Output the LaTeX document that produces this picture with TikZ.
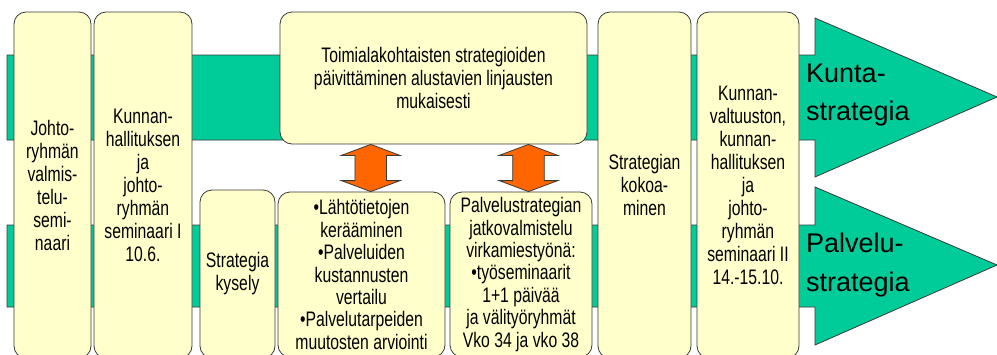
\documentclass[tikz,border=0pt]{standalone}
\usepackage{fontspec}
\usetikzlibrary{calc}
\setmainfont{Liberation Sans}
\newfontfamily\bodyfont{Liberation Sans}[FakeStretch=0.75]
\definecolor{bandgreen}{HTML}{00CC99}
\definecolor{paper}{HTML}{FFFFCC}
\definecolor{flame}{HTML}{FF6600}
\definecolor{edge}{HTML}{3A3A3A}

% two-way arrow between a box above and a box below, centred on a given x
\newcommand{\twowayarrow}[3]{%
  \draw[swap] (#2.south -| #1) -- ++(29.3,11) -- ++(-13.5,0)
    -- ($(#3.north -| #1)+(15.8,-11)$) -- ++(13.5,0) -- (#3.north -| #1)
    -- ++(-29.3,-11) -- ++(13.5,0) -- ($(#2.south -| #1)+(-15.8,11)$)
    -- ++(-13.5,0) -- cycle;}

\begin{document}
\begin{tikzpicture}[x=1pt,y=-1pt,
  band/.style={fill=bandgreen,draw=edge,line width=0.8pt},
  stage/.style={draw=edge,fill=paper,rounded corners=12pt,line width=0.8pt,
    align=center,inner sep=0pt,
    font=\bodyfont\fontsize{21}{23}\selectfont},
  tight/.style={font=\bodyfont\fontsize{21}{22.4}\selectfont},
  swap/.style={fill=flame,draw=edge,line width=0.8pt},
  outcome/.style={anchor=base west,inner sep=0pt,
    font=\fontsize{27}{38.5}\selectfont}]
\useasboundingbox (0,0) rectangle (997,354);
\clip (0,0) rectangle (997,354);

% the two strategy tracks
\draw[band] (7,55) -- (815,55) -- (815,18) -- (997,97) -- (815,177)
  -- (815,140) -- (7,140) -- cycle;
\draw[band] (7,225) -- (815,225) -- (815,187) -- (997,265) -- (815,345)
  -- (815,307) -- (7,307) -- cycle;

% stages
\node[stage,minimum width=77,minimum height=346] (prep) at (52.5,185)
  {Johto-\\ryhmän\\valmis-\\telu-\\semi-\\naari};
\node[stage,minimum width=98,minimum height=346] (sem1) at (143,185)
  {Kunnan-\\hallituksen\\ja\\johto-\\ryhmän\\seminaari I\\10.6.};
\node[stage,minimum width=75,minimum height=168] (survey) at (237.5,274)
  {Strategia\\kysely};
\node[stage,minimum width=307,minimum height=132] (sector) at (433.5,78)
  {Toimialakohtaisten strategioiden\\päivittäminen alustavien linjausten\\mukaisesti};
\node[stage,tight,minimum width=167,minimum height=165] (data) at (361.5,274.5)
  {•Lähtötietojen\\kerääminen\\•Palveluiden\\kustannusten\\vertailu\\•Palvelutarpeiden\\muutosten arviointi};
\node[stage,tight,minimum width=142,minimum height=165] (service) at (521,274.5)
  {Palvelustrategian\\jatkovalmistelu\\virkamiestyönä:\\•työseminaarit\\1+1 päivää\\ja välityöryhmät\\Vko 34 ja vko 38};
\node[stage,minimum width=93,minimum height=346] (compile) at (644.5,185)
  {Strategian\\kokoa-\\minen};
\node[stage,minimum width=102,minimum height=346] (sem2) at (748,185)
  {Kunnan-\\valtuuston,\\kunnan-\\hallituksen\\ja\\johto-\\ryhmän\\seminaari II\\14.-15.10.};

% links between the sector update and the lower work
\coordinate (xa) at (370.7,0);
\coordinate (xb) at (528.5,0);
\twowayarrow{xa}{sector}{data}
\twowayarrow{xb}{sector}{service}

% results
\node[outcome] (kunta) at (806,82.3)
  {\begin{tabular}[t]{@{}l@{}}Kunta-\\strategia\end{tabular}};
\node[outcome] (palvelu) at (806,252.5)
  {\begin{tabular}[t]{@{}l@{}}Palvelu-\\strategia\end{tabular}};
\end{tikzpicture}
\end{document}
